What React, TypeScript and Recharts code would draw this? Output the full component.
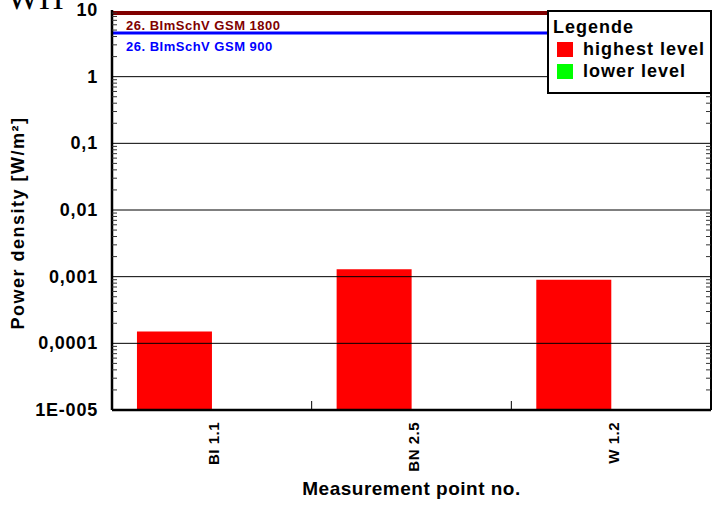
import React from 'react'
import { ComposedChart, Bar, XAxis, YAxis, ReferenceLine, Legend } from 'recharts'

const points = ['BI 1.1', 'BN 2.5', 'W 1.2']
const highest = [1.5e-4, 1.29e-3, 9.0e-4]
const lower: (number | null)[] = [null, null, null]

const decades = [1e-5, 1e-4, 1e-3, 1e-2, 1e-1, 1, 10]
const decadeLabels = ['1E-005', '0,0001', '0,001', '0,01', '0,1', '1', '10']

const limits = [
  { value: 9, label: '26. BImSchV GSM 1800', color: '#800000', width: 4, dy: 12 },
  { value: 4.5, label: '26. BImSchV GSM 900', color: '#0000FF', width: 3, dy: 13 },
]

const data = points.map((p, i) => ({ name: p, highest: highest[i], lower: lower[i] }))

// decades plus the 2..9 minor ticks between them
const yTicks = decades.flatMap((d, i) =>
  i === decades.length - 1 ? [d] : [1, 2, 3, 4, 5, 6, 7, 8, 9].map((m) => m * d)
)

const W = 717
const H = 505
const M = { top: 10, right: 0, left: 0, bottom: 0 }
const LEFT_W = 112
const RIGHT_W = 6
const X_H = 95
const PLOT_W = W - LEFT_W - RIGHT_W
const BAND = PLOT_W / points.length

const FONT = 'Arial, "Liberation Sans", sans-serif'

const isDecade = (v: number) => Math.abs(Math.log10(v) - Math.round(Math.log10(v))) < 1e-6

function LeftTick({ x, y, payload }: any) {
  const v = payload.value
  if (isDecade(v)) {
    const idx = decades.findIndex((d) => Math.abs(Math.log10(d) - Math.log10(v)) < 1e-6)
    return (
      <text x={x - 14} y={y} textAnchor="end" dominantBaseline="central"
        fontFamily={FONT} fontWeight="bold" fontSize={18} letterSpacing={0.8} fill="#000">
        {decadeLabels[idx]}
      </text>
    )
  }
  return <line x1={x} x2={x + 5} y1={y} y2={y} stroke="#333" strokeWidth={1} />
}

function RightTick({ x, y, payload }: any) {
  if (isDecade(payload.value)) return null
  return <line x1={x} x2={x - 5} y1={y} y2={y} stroke="#333" strokeWidth={1} />
}

function BottomTick({ x, y, payload, index }: any) {
  const bx = x - BAND / 2
  return (
    <g>
      <line x1={bx} x2={bx} y1={y} y2={y - 9} stroke="#000" strokeWidth={1} />
      {index === points.length - 1 && (
        <line x1={x + BAND / 2} x2={x + BAND / 2} y1={y} y2={y - 9} stroke="#000" strokeWidth={1} />
      )}
      <text x={x + 2} y={y + 12} transform={`rotate(-90 ${x + 2} ${y + 12})`} textAnchor="end"
        dominantBaseline="central" fontFamily={FONT} fontWeight="bold" fontSize={15}
        letterSpacing={0.5} fill="#000">
        {payload.value}
      </text>
    </g>
  )
}

function YTitle({ viewBox }: any) {
  const cx = viewBox.x + 18
  const cy = viewBox.y + viewBox.height / 2 + 13
  return (
    <text x={cx} y={cy} transform={`rotate(-90 ${cx} ${cy})`} textAnchor="middle"
      dominantBaseline="central" fontFamily={FONT} fontWeight="bold" fontSize={18}
      letterSpacing={1.5} fill="#000">
      Power density [W/m²]
    </text>
  )
}

function XTitle({ viewBox }: any) {
  return (
    <text x={viewBox.x + viewBox.width / 2} y={viewBox.y + 78} textAnchor="middle"
      dominantBaseline="central" fontFamily={FONT} fontWeight="bold" fontSize={19}
      letterSpacing={0.5} fill="#000">
      Measurement point no.
    </text>
  )
}

function LimitLabel({ viewBox, text, color, dy }: any) {
  return (
    <text x={viewBox.x + 14} y={viewBox.y + dy} dominantBaseline="central"
      fontFamily={FONT} fontWeight="bold" fontSize={13} letterSpacing={0.5} fill={color}>
      {text}
    </text>
  )
}

function LegendBox({ payload }: any) {
  return (
    <div style={{
      width: 161, height: 80, border: '2px solid #000', background: '#fff',
      fontFamily: FONT, fontWeight: 'bold', fontSize: 18, letterSpacing: 1, color: '#000',
      boxSizing: 'content-box', lineHeight: '22px',
    }}>
      <div style={{ paddingLeft: 4, paddingTop: 4 }}>Legende</div>
      {(payload || []).map((p: any) => (
        <div key={p.value} style={{ display: 'flex', alignItems: 'center', height: 22, paddingLeft: 8 }}>
          <span style={{ width: 16, height: 15, background: p.color, display: 'inline-block', marginRight: 10 }} />
          <span>{p.value}</span>
        </div>
      ))}
    </div>
  )
}

export default function App() {
  return (
    <div style={{ position: 'absolute', left: 0, top: 0, width: W, height: H, background: '#fff', overflow: 'hidden' }}>
      <div style={{
        position: 'absolute', left: 7, top: -19, fontFamily: '"Liberation Serif", "Times New Roman", serif',
        fontSize: 34, lineHeight: '34px', color: '#000',
      }}>
        WH
      </div>
      <ComposedChart width={W} height={H} data={data} margin={M} barCategoryGap="12.5%" barGap={0}>
        <XAxis dataKey="name" height={X_H} interval={0} tickSize={0} tickMargin={0}
          tick={<BottomTick />} axisLine={{ stroke: '#000', strokeWidth: 2.5 }} tickLine={false}
          label={<XTitle />} />
        <XAxis xAxisId="top" orientation="top" dataKey="name" height={0} tick={false}
          tickLine={false} axisLine={{ stroke: '#000', strokeWidth: 2 }} />
        <YAxis scale="log" domain={[1e-5, 10]} allowDataOverflow ticks={yTicks} interval={0}
          width={LEFT_W} tickSize={0} tickMargin={0} tick={<LeftTick />} tickLine={false}
          axisLine={{ stroke: '#000', strokeWidth: 2.5 }} label={<YTitle />} />
        <YAxis yAxisId="right" orientation="right" scale="log" domain={[1e-5, 10]} allowDataOverflow
          ticks={yTicks} interval={0} width={RIGHT_W} tickSize={0} tickMargin={0}
          tick={<RightTick />} tickLine={false} axisLine={{ stroke: '#000', strokeWidth: 2 }} />
        <Bar dataKey="highest" name="highest level" fill="#FF0000" isAnimationActive={false} />
        <Bar dataKey="lower" name="lower level" fill="#00FF00" isAnimationActive={false} />
        {decades.slice(1, -1).map((d) => (
          <ReferenceLine key={d} y={d} stroke="#000" strokeWidth={1} />
        ))}
        {limits.map((l) => (
          <ReferenceLine key={l.label} y={l.value} stroke={l.color} strokeWidth={l.width}
            label={<LimitLabel text={l.label} color={l.color} dy={l.dy} />} />
        ))}
        <Legend layout="horizontal" verticalAlign="middle" align="center"
          content={<LegendBox />}
          wrapperStyle={{ left: 547, top: 10, width: 'auto' }} />
      </ComposedChart>
    </div>
  )
}
